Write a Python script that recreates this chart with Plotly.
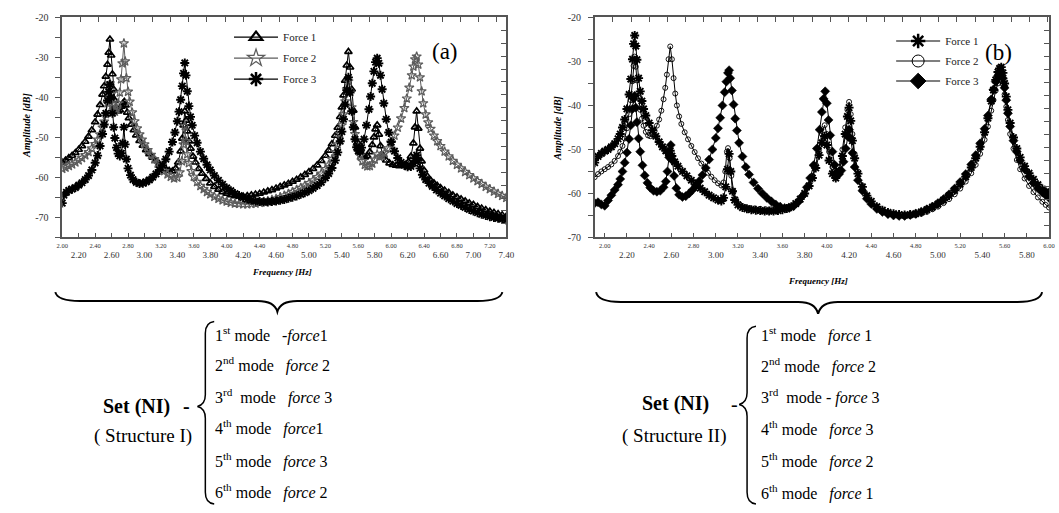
import plotly.graph_objects as go

# ---------------- data ----------------
# Panel (a): Structure I  -- (frequency Hz, amplitude dB)
force1_a = [(2.00,-56.3),(2.04,-55.8),(2.08,-55.2),(2.12,-54.6),(2.16,-53.9),(2.20,-53.1),(2.24,-52.2),(2.28,-51.1),(2.32,-49.8),(2.36,-48.2),(2.40,-46.2),(2.43,-44.3),(2.46,-41.9),(2.49,-39.3),(2.51,-37.2),(2.53,-34.8),(2.55,-31.8),(2.565,-28.8),(2.58,-25.5),(2.595,-29.5),(2.61,-34.2),(2.625,-38.0),(2.64,-40.8),(2.66,-42.8),(2.68,-43.5),(2.70,-43.2),(2.72,-42.3),(2.74,-41.5),(2.755,-41.1),(2.77,-42.0),(2.79,-43.8),(2.81,-45.2),(2.84,-46.8),(2.87,-48.2),(2.90,-49.5),(2.94,-50.9),(2.98,-52.1),(3.02,-53.2),(3.06,-54.2),(3.10,-55.1),(3.14,-55.9),(3.18,-56.7),(3.22,-57.4),(3.26,-58.0),(3.30,-58.4),(3.34,-58.5),(3.38,-57.8),(3.41,-56.3),(3.44,-53.5),(3.46,-50.3),(3.475,-47.0),(3.49,-43.5),(3.505,-45.8),(3.52,-48.5),(3.54,-51.0),(3.56,-52.8),(3.59,-54.8),(3.62,-56.3),(3.66,-57.9),(3.70,-59.1),(3.75,-60.4),(3.80,-61.5),(3.85,-62.4),(3.90,-63.1),(3.95,-63.7),(4.00,-64.1),(4.05,-64.5),(4.10,-64.7),(4.15,-64.8),(4.20,-64.8),(4.25,-64.7),(4.30,-64.5),(4.35,-64.3),(4.40,-64.1),(4.45,-63.8),(4.50,-63.5),(4.55,-63.2),(4.60,-62.8),(4.65,-62.4),(4.70,-62.0),(4.75,-61.6),(4.80,-61.1),(4.85,-60.6),(4.90,-60.0),(4.95,-59.4),(5.00,-58.7),(5.05,-57.9),(5.10,-57.0),(5.15,-55.9),(5.20,-54.6),(5.24,-53.3),(5.28,-51.7),(5.32,-49.6),(5.35,-47.6),(5.38,-44.9),(5.40,-42.5),(5.42,-39.5),(5.44,-35.8),(5.46,-32.0),(5.48,-28.6),(5.50,-32.5),(5.52,-38.0),(5.54,-43.3),(5.56,-47.5),(5.59,-51.3),(5.62,-53.6),(5.65,-54.6),(5.68,-55.0),(5.71,-54.7),(5.74,-53.7),(5.77,-51.9),(5.79,-50.0),(5.81,-48.0),(5.83,-47.0),(5.85,-49.3),(5.87,-52.2),(5.90,-54.5),(5.94,-55.8),(5.98,-56.5),(6.02,-56.9),(6.06,-57.1),(6.10,-57.2),(6.14,-57.1),(6.18,-56.8),(6.21,-56.2),(6.24,-54.8),(6.27,-51.5),(6.29,-47.5),(6.31,-43.5),(6.33,-47.8),(6.35,-52.8),(6.37,-56.0),(6.40,-58.3),(6.44,-59.8),(6.48,-60.8),(6.52,-61.5),(6.56,-62.1),(6.60,-62.7),(6.65,-63.3),(6.70,-63.9),(6.75,-64.5),(6.80,-65.0),(6.85,-65.5),(6.90,-66.0),(6.95,-66.5),(7.00,-66.9),(7.05,-67.4),(7.10,-67.8),(7.15,-68.2),(7.20,-68.6),(7.25,-68.9),(7.30,-69.2),(7.35,-69.5),(7.40,-69.8)]

force2_a = [(2.00,-57.9),(2.04,-57.6),(2.08,-57.2),(2.12,-56.8),(2.16,-56.3),(2.20,-55.8),(2.24,-55.2),(2.28,-54.5),(2.32,-53.7),(2.36,-52.8),(2.40,-51.7),(2.43,-50.6),(2.46,-49.3),(2.49,-47.6),(2.51,-46.1),(2.53,-44.2),(2.55,-41.5),(2.565,-39.0),(2.58,-36.5),(2.595,-39.2),(2.61,-41.8),(2.625,-43.2),(2.64,-43.6),(2.66,-43.0),(2.68,-41.5),(2.70,-38.8),(2.715,-35.5),(2.73,-31.5),(2.75,-26.5),(2.765,-31.0),(2.78,-35.2),(2.80,-38.6),(2.82,-41.1),(2.85,-43.8),(2.88,-46.0),(2.91,-47.8),(2.94,-49.3),(2.97,-50.6),(3.00,-51.8),(3.04,-53.2),(3.08,-54.4),(3.12,-55.5),(3.16,-56.6),(3.20,-57.6),(3.24,-58.5),(3.28,-59.3),(3.32,-59.9),(3.36,-60.3),(3.40,-60.1),(3.43,-58.8),(3.455,-56.0),(3.475,-51.8),(3.49,-47.2),(3.505,-51.0),(3.52,-54.3),(3.54,-56.5),(3.57,-58.5),(3.60,-59.9),(3.64,-61.2),(3.68,-62.2),(3.72,-63.0),(3.76,-63.7),(3.80,-64.3),(3.85,-64.9),(3.90,-65.4),(3.95,-65.8),(4.00,-66.1),(4.05,-66.4),(4.10,-66.6),(4.15,-66.7),(4.20,-66.8),(4.25,-66.8),(4.30,-66.7),(4.35,-66.6),(4.40,-66.4),(4.45,-66.2),(4.50,-66.0),(4.55,-65.7),(4.60,-65.4),(4.65,-65.0),(4.70,-64.6),(4.75,-64.2),(4.80,-63.7),(4.85,-63.2),(4.90,-62.7),(4.95,-62.1),(5.00,-61.5),(5.05,-60.8),(5.10,-60.0),(5.15,-59.1),(5.20,-58.0),(5.24,-56.9),(5.28,-55.5),(5.32,-53.7),(5.35,-51.8),(5.38,-49.2),(5.40,-47.0),(5.42,-44.3),(5.44,-41.0),(5.46,-38.0),(5.48,-36.0),(5.50,-38.8),(5.52,-42.5),(5.54,-46.2),(5.56,-49.2),(5.59,-52.3),(5.62,-54.6),(5.65,-56.0),(5.68,-56.9),(5.71,-57.3),(5.74,-57.2),(5.77,-56.6),(5.80,-55.6),(5.83,-54.3),(5.86,-54.9),(5.89,-54.7),(5.92,-54.0),(5.96,-52.8),(6.00,-51.3),(6.04,-49.6),(6.08,-47.6),(6.12,-45.3),(6.16,-42.7),(6.19,-40.3),(6.22,-37.6),(6.25,-34.5),(6.27,-32.3),(6.29,-30.5),(6.31,-29.8),(6.33,-31.8),(6.35,-35.0),(6.37,-38.5),(6.39,-41.5),(6.42,-44.3),(6.45,-46.3),(6.48,-47.9),(6.52,-49.6),(6.56,-51.0),(6.60,-52.2),(6.65,-53.6),(6.70,-54.8),(6.75,-55.9),(6.80,-56.9),(6.85,-57.8),(6.90,-58.7),(6.95,-59.5),(7.00,-60.3),(7.05,-61.0),(7.10,-61.7),(7.15,-62.4),(7.20,-63.0),(7.25,-63.6),(7.30,-64.2),(7.35,-64.7),(7.40,-65.2)]

force3_a = [(2.00,-66.5),(2.02,-64.5),(2.05,-63.8),(2.08,-63.3),(2.12,-63.0),(2.16,-62.6),(2.20,-62.0),(2.24,-61.4),(2.28,-60.6),(2.32,-59.6),(2.36,-58.2),(2.40,-56.4),(2.43,-54.6),(2.46,-52.2),(2.49,-49.2),(2.51,-46.8),(2.53,-44.0),(2.55,-40.8),(2.565,-38.6),(2.58,-36.8),(2.595,-40.0),(2.61,-44.0),(2.625,-47.5),(2.64,-50.2),(2.66,-52.6),(2.68,-54.1),(2.70,-54.7),(2.72,-54.0),(2.735,-51.5),(2.75,-47.5),(2.765,-51.8),(2.78,-55.5),(2.80,-57.8),(2.83,-59.5),(2.86,-60.6),(2.90,-61.3),(2.94,-61.6),(2.98,-61.5),(3.02,-61.2),(3.06,-60.7),(3.10,-60.0),(3.14,-59.2),(3.18,-58.2),(3.22,-57.0),(3.26,-55.5),(3.30,-53.6),(3.34,-51.2),(3.37,-48.8),(3.40,-46.0),(3.42,-43.6),(3.44,-40.6),(3.46,-37.2),(3.475,-34.0),(3.49,-31.4),(3.505,-34.5),(3.52,-38.5),(3.54,-42.2),(3.56,-44.9),(3.58,-47.0),(3.61,-49.6),(3.64,-51.4),(3.68,-53.6),(3.72,-55.4),(3.76,-56.9),(3.80,-58.2),(3.85,-59.6),(3.90,-60.8),(3.95,-61.8),(4.00,-62.7),(4.05,-63.4),(4.10,-64.1),(4.15,-64.6),(4.20,-65.1),(4.25,-65.5),(4.30,-65.8),(4.35,-66.0),(4.40,-66.1),(4.45,-66.2),(4.50,-66.2),(4.55,-66.1),(4.60,-66.0),(4.65,-65.8),(4.70,-65.6),(4.75,-65.3),(4.80,-65.0),(4.85,-64.7),(4.90,-64.3),(4.95,-63.9),(5.00,-63.4),(5.05,-62.8),(5.10,-62.1),(5.15,-61.3),(5.20,-60.2),(5.24,-59.1),(5.28,-57.7),(5.32,-55.8),(5.35,-53.8),(5.38,-51.0),(5.40,-48.6),(5.42,-45.5),(5.44,-41.8),(5.46,-38.2),(5.48,-35.0),(5.50,-38.8),(5.52,-43.5),(5.54,-47.5),(5.56,-50.5),(5.58,-52.5),(5.60,-53.4),(5.62,-53.5),(5.64,-52.6),(5.67,-50.5),(5.70,-47.0),(5.73,-43.0),(5.75,-39.8),(5.77,-36.5),(5.79,-33.5),(5.81,-31.2),(5.83,-30.2),(5.85,-31.5),(5.87,-34.5),(5.89,-38.0),(5.91,-41.5),(5.94,-45.5),(5.97,-48.8),(6.00,-51.2),(6.04,-53.5),(6.08,-55.2),(6.12,-56.3),(6.16,-57.0),(6.20,-57.4),(6.24,-57.3),(6.27,-56.5),(6.29,-55.3),(6.31,-54.5),(6.33,-55.8),(6.35,-57.8),(6.38,-59.4),(6.42,-60.6),(6.46,-61.5),(6.50,-62.3),(6.55,-63.2),(6.60,-64.0),(6.65,-64.7),(6.70,-65.4),(6.75,-66.0),(6.80,-66.6),(6.85,-67.1),(6.90,-67.6),(6.95,-68.1),(7.00,-68.5),(7.05,-68.9),(7.10,-69.3),(7.15,-69.6),(7.20,-69.9),(7.25,-70.1),(7.30,-70.3),(7.35,-70.5),(7.40,-70.7)]

# Panel (b): Structure II
force1_b = [(1.91,-53.0),(1.94,-51.6),(1.97,-50.9),(2.00,-50.4),(2.03,-50.0),(2.06,-49.4),(2.09,-48.7),(2.12,-47.6),(2.14,-46.5),(2.16,-45.0),(2.18,-43.2),(2.20,-40.8),(2.22,-37.5),(2.235,-34.0),(2.25,-29.5),(2.26,-26.0),(2.27,-24.1),(2.28,-26.5),(2.29,-29.6),(2.305,-33.8),(2.32,-36.8),(2.335,-39.0),(2.35,-40.8),(2.37,-42.3),(2.40,-44.0),(2.43,-45.6),(2.46,-47.0),(2.49,-48.3),(2.52,-49.4),(2.55,-50.3),(2.575,-50.8),(2.59,-50.3),(2.605,-51.5),(2.63,-52.8),(2.66,-53.8),(2.70,-55.0),(2.74,-56.0),(2.78,-57.0),(2.82,-57.9),(2.86,-58.8),(2.90,-59.6),(2.94,-60.4),(2.98,-61.0),(3.02,-61.5),(3.05,-61.7),(3.07,-61.0),(3.09,-58.5),(3.105,-54.5),(3.12,-51.0),(3.135,-55.0),(3.15,-59.5),(3.17,-61.5),(3.20,-62.6),(3.24,-63.2),(3.28,-63.5),(3.32,-63.7),(3.36,-63.8),(3.40,-63.9),(3.44,-64.0),(3.48,-64.0),(3.52,-64.0),(3.56,-63.9),(3.60,-63.7),(3.64,-63.4),(3.68,-63.0),(3.72,-62.3),(3.76,-61.3),(3.80,-60.0),(3.84,-58.3),(3.87,-56.5),(3.90,-54.2),(3.93,-51.3),(3.955,-48.5),(3.98,-47.0),(4.00,-49.0),(4.02,-52.5),(4.05,-55.5),(4.08,-56.5),(4.11,-55.0),(4.14,-51.5),(4.165,-46.5),(4.185,-42.5),(4.20,-40.5),(4.215,-43.5),(4.23,-48.0),(4.25,-52.0),(4.28,-55.5),(4.32,-58.5),(4.36,-60.5),(4.40,-61.8),(4.45,-63.0),(4.50,-63.8),(4.55,-64.3),(4.60,-64.6),(4.65,-64.8),(4.70,-64.9),(4.75,-64.8),(4.80,-64.6),(4.85,-64.2),(4.90,-63.7),(4.95,-63.1),(5.00,-62.4),(5.05,-61.5),(5.10,-60.5),(5.15,-59.3),(5.20,-57.9),(5.25,-56.2),(5.30,-54.1),(5.34,-52.0),(5.38,-49.4),(5.42,-46.1),(5.45,-42.9),(5.48,-39.0),(5.50,-36.5),(5.52,-34.2),(5.54,-32.4),(5.555,-31.6),(5.57,-31.3),(5.585,-32.6),(5.60,-35.0),(5.615,-38.0),(5.63,-41.0),(5.65,-44.0),(5.68,-47.3),(5.71,-49.8),(5.74,-51.8),(5.78,-53.8),(5.82,-55.4),(5.86,-56.8),(5.90,-58.0),(5.94,-59.0),(5.97,-59.6),(6.00,-60.2)]

force2_b = [(1.91,-56.3),(1.94,-55.6),(1.97,-55.0),(2.00,-54.5),(2.03,-54.0),(2.06,-53.4),(2.09,-52.6),(2.12,-51.5),(2.14,-50.5),(2.16,-49.2),(2.18,-47.5),(2.20,-45.2),(2.22,-42.0),(2.235,-38.8),(2.25,-34.5),(2.26,-31.0),(2.27,-28.9),(2.28,-31.2),(2.29,-34.3),(2.305,-38.3),(2.32,-41.0),(2.335,-43.0),(2.35,-44.6),(2.37,-46.0),(2.39,-46.8),(2.41,-47.0),(2.43,-46.6),(2.45,-45.8),(2.47,-44.6),(2.49,-43.2),(2.51,-41.2),(2.53,-38.6),(2.545,-36.0),(2.56,-33.0),(2.575,-29.5),(2.59,-26.6),(2.605,-29.5),(2.62,-33.8),(2.635,-37.3),(2.65,-40.0),(2.67,-42.5),(2.69,-44.2),(2.72,-46.1),(2.75,-47.7),(2.78,-49.2),(2.81,-50.6),(2.84,-52.0),(2.87,-53.2),(2.90,-54.3),(2.93,-55.3),(2.96,-56.2),(2.99,-57.0),(3.02,-57.7),(3.05,-58.2),(3.07,-57.5),(3.085,-55.0),(3.10,-50.5),(3.11,-49.7),(3.125,-52.0),(3.14,-56.0),(3.16,-59.5),(3.18,-61.3),(3.21,-62.4),(3.25,-63.0),(3.30,-63.3),(3.35,-63.4),(3.40,-63.5),(3.45,-63.6),(3.50,-63.6),(3.55,-63.6),(3.60,-63.5),(3.64,-63.3),(3.68,-62.9),(3.72,-62.3),(3.76,-61.4),(3.80,-60.0),(3.84,-58.0),(3.87,-56.0),(3.90,-53.5),(3.93,-50.0),(3.955,-46.5),(3.98,-44.5),(4.00,-46.5),(4.02,-50.5),(4.05,-54.0),(4.08,-55.3),(4.11,-54.0),(4.14,-50.0),(4.165,-45.0),(4.185,-41.0),(4.20,-39.2),(4.215,-42.0),(4.23,-46.5),(4.25,-51.0),(4.28,-55.0),(4.32,-58.3),(4.36,-60.5),(4.40,-62.0),(4.45,-63.3),(4.50,-64.1),(4.55,-64.7),(4.60,-65.0),(4.65,-65.2),(4.70,-65.2),(4.75,-65.1),(4.80,-64.9),(4.85,-64.6),(4.90,-64.2),(4.95,-63.6),(5.00,-63.0),(5.05,-62.2),(5.10,-61.3),(5.15,-60.2),(5.20,-58.9),(5.25,-57.3),(5.30,-55.4),(5.34,-53.5),(5.38,-51.0),(5.42,-47.8),(5.45,-44.8),(5.48,-41.2),(5.50,-38.8),(5.52,-36.6),(5.54,-35.0),(5.555,-34.3),(5.57,-34.0),(5.585,-35.2),(5.60,-37.5),(5.615,-40.3),(5.63,-43.3),(5.65,-46.5),(5.68,-49.8),(5.71,-52.4),(5.74,-54.5),(5.78,-56.6),(5.82,-58.3),(5.86,-59.7),(5.90,-60.9),(5.94,-61.9),(5.97,-62.6),(6.00,-63.2)]

force3_b = [(1.91,-62.2),(1.94,-62.0),(1.97,-62.5),(2.00,-62.8),(2.03,-61.6),(2.06,-60.4),(2.09,-59.2),(2.12,-58.0),(2.14,-56.7),(2.16,-55.0),(2.18,-53.0),(2.20,-50.7),(2.22,-47.6),(2.235,-44.5),(2.25,-40.8),(2.26,-38.5),(2.27,-37.8),(2.28,-40.5),(2.29,-43.8),(2.305,-47.5),(2.32,-50.5),(2.34,-53.6),(2.36,-55.9),(2.385,-57.6),(2.41,-58.7),(2.44,-59.4),(2.47,-59.6),(2.50,-59.4),(2.53,-58.6),(2.55,-57.3),(2.565,-55.0),(2.58,-51.8),(2.595,-49.0),(2.61,-52.5),(2.625,-56.0),(2.645,-58.8),(2.67,-60.3),(2.70,-60.8),(2.73,-60.6),(2.76,-60.0),(2.79,-59.2),(2.82,-58.3),(2.85,-57.2),(2.88,-55.8),(2.91,-54.2),(2.94,-52.3),(2.97,-50.0),(3.00,-47.4),(3.02,-45.2),(3.04,-42.8),(3.06,-40.0),(3.08,-37.0),(3.095,-34.6),(3.11,-32.6),(3.12,-32.0),(3.13,-33.8),(3.145,-36.6),(3.16,-39.8),(3.175,-43.0),(3.19,-45.7),(3.21,-48.5),(3.24,-51.6),(3.27,-54.0),(3.30,-55.7),(3.34,-57.5),(3.38,-58.9),(3.42,-60.0),(3.46,-61.0),(3.50,-61.8),(3.54,-62.5),(3.58,-63.0),(3.62,-63.3),(3.66,-63.3),(3.70,-62.9),(3.74,-62.0),(3.78,-60.6),(3.82,-58.6),(3.85,-56.5),(3.88,-53.6),(3.91,-49.8),(3.935,-45.5),(3.955,-41.5),(3.97,-38.5),(3.985,-36.8),(4.00,-39.5),(4.015,-43.3),(4.03,-46.8),(4.05,-50.5),(4.07,-53.5),(4.09,-55.2),(4.11,-55.6),(4.13,-54.8),(4.15,-52.8),(4.17,-49.8),(4.185,-47.0),(4.20,-45.5),(4.215,-47.5),(4.23,-50.8),(4.25,-54.0),(4.28,-57.0),(4.32,-59.4),(4.36,-61.2),(4.40,-62.4),(4.45,-63.5),(4.50,-64.2),(4.55,-64.7),(4.60,-65.0),(4.65,-65.1),(4.70,-65.1),(4.75,-64.9),(4.80,-64.6),(4.85,-64.2),(4.90,-63.6),(4.95,-63.0),(5.00,-62.2),(5.05,-61.3),(5.10,-60.2),(5.15,-58.9),(5.20,-57.4),(5.25,-55.6),(5.30,-53.4),(5.34,-51.3),(5.38,-48.6),(5.42,-45.3),(5.45,-42.3),(5.48,-38.6),(5.50,-36.4),(5.52,-34.6),(5.54,-33.3),(5.555,-32.8),(5.57,-32.6),(5.585,-33.8),(5.60,-36.0),(5.615,-38.8),(5.63,-41.8),(5.65,-44.8),(5.68,-48.0),(5.71,-50.5),(5.74,-52.5),(5.78,-54.5),(5.82,-56.2),(5.86,-57.6),(5.90,-58.8),(5.94,-59.8),(5.97,-60.4),(6.00,-61.0)]

series_names = ["Force 1", "Force 2", "Force 3"]

# tick values / labels
xticks_a_upper = [2.0, 2.4, 2.8, 3.2, 3.6, 4.0, 4.4, 4.8, 5.2, 5.6, 6.0, 6.4, 6.8, 7.2]
xlabels_a_upper = ["2.00", "2.40", "2.80", "3.20", "3.60", "4.00", "4.40", "4.80", "5.20", "5.60", "6.00", "6.40", "6.80", "7.20"]
xticks_a_lower = [2.2, 2.6, 3.0, 3.4, 3.8, 4.2, 4.6, 5.0, 5.4, 5.8, 6.2, 6.6, 7.0, 7.4]
xlabels_a_lower = ["2.20", "2.60", "3.00", "3.40", "3.80", "4.20", "4.60", "5.00", "5.40", "5.80", "6.20", "6.60", "7.00", "7.40"]
xticks_b_upper = [2.0, 2.4, 2.8, 3.2, 3.6, 4.0, 4.4, 4.8, 5.2, 5.6, 6.0]
xlabels_b_upper = ["2.00", "2.40", "2.80", "3.20", "3.60", "4.00", "4.40", "4.80", "5.20", "5.60", "6.00"]
xticks_b_lower = [2.2, 2.6, 3.0, 3.4, 3.8, 4.2, 4.6, 5.0, 5.4, 5.8]
xlabels_b_lower = ["2.20", "2.60", "3.00", "3.40", "3.80", "4.20", "4.60", "5.00", "5.40", "5.80"]
yticks = [-20, -30, -40, -50, -60, -70]
ylabels = ["-20", "-30", "-40", "-50", "-60", "-70"]

rows_a = ["1<sup>st</sup> mode &nbsp;&nbsp;-<i>force</i>1",
          "2<sup>nd</sup> mode &nbsp;&nbsp;<i>force</i> 2",
          "3<sup>rd</sup> &nbsp;mode &nbsp;&nbsp;<i>force</i> 3",
          "4<sup>th</sup> mode &nbsp;&nbsp;<i>force</i>1",
          "5<sup>th</sup> mode &nbsp;&nbsp;<i>force</i> 3",
          "6<sup>th</sup> mode &nbsp;&nbsp;<i>force</i> 2"]
rows_b = ["1<sup>st</sup> mode &nbsp;&nbsp;<i>force</i> 1",
          "2<sup>nd</sup> mode &nbsp;&nbsp;<i>force</i> 2",
          "3<sup>rd</sup> &nbsp;mode - <i>force</i> 3",
          "4<sup>th</sup> mode &nbsp;&nbsp;<i>force</i> 3",
          "5<sup>th</sup> mode &nbsp;&nbsp;<i>force</i> 2",
          "6<sup>th</sup> mode &nbsp;&nbsp;<i>force</i> 1"]

# ---------------- layout helpers ----------------
W, H = 1059, 513
SERIF = "Times New Roman, Liberation Serif, Tinos, serif"
AX = "#555555"
GRAY = "#5c5c5c"


def px(x):
    return x / W


def py(y):
    return 1 - y / H


def unzip(pairs):
    return [p[0] for p in pairs], [p[1] for p in pairs]


fig = go.Figure()

styles_a = [
    dict(symbol="triangle-up-open", size=6.5, color="black", line=dict(width=1.7, color="black")),
    dict(symbol="star-open", size=7, color=GRAY, line=dict(width=1.2, color=GRAY)),
    dict(symbol="asterisk-open", size=7.5, color="black", line=dict(width=1.9, color="black")),
]
legend_styles_a = [
    dict(symbol="triangle-up-open", size=11, color="black", line=dict(width=2.2, color="black")),
    dict(symbol="star-open", size=13, color=GRAY, line=dict(width=1.2, color=GRAY)),
    dict(symbol="asterisk-open", size=12, color="black", line=dict(width=2.5, color="black")),
]
line_colors_a = ["black", GRAY, "black"]

for name, data, st, lst, lc in zip(series_names, [force1_a, force2_a, force3_a], styles_a, legend_styles_a, line_colors_a):
    xs, ys = unzip(data)
    fig.add_trace(go.Scatter(x=xs, y=ys, mode="lines+markers", name=name, showlegend=False,
                             line=dict(color=lc, width=1), marker=st, xaxis="x", yaxis="y"))
    fig.add_trace(go.Scatter(x=[None], y=[None], mode="lines+markers", name=name, legend="legend",
                             legendgroup="a" + name,
                             line=dict(color=lc, width=1.2), marker=lst, xaxis="x", yaxis="y"))

styles_b = [
    dict(symbol="asterisk-open", size=7.5, color="black", line=dict(width=1.9, color="black")),
    dict(symbol="circle-open", size=5, color="black", line=dict(width=0.9, color="black")),
    dict(symbol="diamond", size=7, color="black", line=dict(width=0.5, color="black")),
]
legend_styles_b = [
    dict(symbol="asterisk-open", size=12, color="black", line=dict(width=2.5, color="black")),
    dict(symbol="circle-open", size=12, color="black", line=dict(width=1, color="black")),
    dict(symbol="diamond", size=12, color="black", line=dict(width=1, color="black")),
]
for name, data, st, lst in zip(series_names, [force1_b, force2_b, force3_b], styles_b, legend_styles_b):
    xs, ys = unzip(data)
    fig.add_trace(go.Scatter(x=xs, y=ys, mode="lines+markers", name=name, showlegend=False,
                             line=dict(color="black", width=1), marker=st, xaxis="x2", yaxis="y2"))
    fig.add_trace(go.Scatter(x=[None], y=[None], mode="lines+markers", name=name, legend="legend2",
                             legendgroup="b" + name,
                             line=dict(color="black", width=1.2), marker=lst, xaxis="x2", yaxis="y2"))

# empty traces so that the decorative overlay axes are drawn
for xa, ya in [("x3", "y"), ("x5", "y"), ("x", "y3"), ("x4", "y2"), ("x6", "y2"), ("x2", "y4")]:
    fig.add_trace(go.Scatter(x=[], y=[], xaxis=xa, yaxis=ya, showlegend=False, hoverinfo="skip"))

xr_a = [2.0, 7.4]
yr_a = [-75.1, -20]
xr_b = [1.911, 6.0]
yr_b = [-70, -20]
dom_xa = [px(57), px(507)]
dom_xb = [px(596.7), px(1057)]
dom_y = [py(237), py(11.7)]

base_x = dict(showgrid=False, zeroline=False, showline=True, mirror=True, linecolor=AX, linewidth=1.5,
              ticks="inside", ticklen=5, tickcolor=AX, tickwidth=1, tickmode="array",
              minor=dict(ticks="inside", ticklen=5, tickcolor=AX, tickwidth=1, tick0=2.0, dtick=0.2, showgrid=False),
              tickfont=dict(family=SERIF, size=6.5, color="#333"), ticklabelstandoff=1)
base_y = dict(showgrid=False, zeroline=False, showline=True, mirror=True, linecolor=AX, linewidth=1.5,
              ticks="outside", ticklen=5, tickcolor=AX, tickwidth=1, tickmode="array",
              tickvals=yticks, ticktext=ylabels,
              minor=dict(ticks="outside", ticklen=5, tickcolor=AX, tickwidth=1, tick0=-20, dtick=5, showgrid=False),
              tickfont=dict(family=SERIF, size=10, color="#333"), ticklabelstandoff=5)
deco = dict(showgrid=False, zeroline=False, showline=False, showticklabels=False,
            ticks="inside", ticklen=5, tickcolor=AX, tickwidth=1, tickmode="linear")
lower_lab = dict(showgrid=False, zeroline=False, showline=False, ticks="", tickmode="array",
                 tickfont=dict(family=SERIF, size=9, color="#333"), ticklabelstandoff=11)

fig.update_layout(
    width=W, height=H, margin=dict(l=0, r=0, t=0, b=0),
    paper_bgcolor="white", plot_bgcolor="white",
    xaxis=dict(base_x, domain=dom_xa, anchor="y", range=xr_a, tickvals=xticks_a_upper, ticktext=xlabels_a_upper),
    yaxis=dict(base_y, domain=dom_y, anchor="x", range=yr_a),
    xaxis3=dict(deco, overlaying="x", anchor="y", side="top", range=xr_a, tick0=2.0, dtick=0.22),
    yaxis3=dict(deco, overlaying="y", anchor="x", side="right", range=yr_a, tick0=-20, dtick=3.23),
    xaxis5=dict(lower_lab, overlaying="x", anchor="y", side="bottom", range=xr_a,
                tickvals=xticks_a_lower, ticktext=xlabels_a_lower),
    xaxis2=dict(base_x, domain=dom_xb, anchor="y2", range=xr_b, tickvals=xticks_b_upper, ticktext=xlabels_b_upper),
    yaxis2=dict(base_y, domain=dom_y, anchor="x2", range=yr_b),
    xaxis4=dict(deco, overlaying="x2", anchor="y2", side="top", range=xr_b, tick0=1.911, dtick=0.163),
    yaxis4=dict(deco, overlaying="y2", anchor="x2", side="right", range=yr_b, tick0=-20, dtick=2.96),
    xaxis6=dict(lower_lab, overlaying="x2", anchor="y2", side="bottom", range=xr_b,
                tickvals=xticks_b_lower, ticktext=xlabels_b_lower),
    legend=dict(x=px(226), y=py(17), xanchor="left", yanchor="top", bgcolor="rgba(0,0,0,0)",
                font=dict(family=SERIF, size=11, color="#222"), itemwidth=44, tracegroupgap=2),
    legend2=dict(x=px(897), y=py(21), xanchor="left", yanchor="top", bgcolor="rgba(0,0,0,0)",
                 font=dict(family=SERIF, size=11, color="#222"), itemwidth=44, tracegroupgap=1),
    showlegend=True,
)

ann = []


def text(x, y, s, size, anchor="center", angle=0):
    ann.append(dict(xref="paper", yref="paper", x=px(x), y=py(y), text=s, showarrow=False,
                    xanchor=anchor, yanchor="middle", textangle=angle,
                    font=dict(family=SERIF, size=size, color="black")))


# panel labels and axis titles
text(445, 47, "(a)", 23)
text(1006, 48, "(b)", 23)
text(20, 122, "<b><i>Amplitude [dB]</i></b>", 10, angle=-90)
text(558, 125, "<b><i>Amplitude [dB]</i></b>", 10, angle=-90)
text(280, 272, "<b><i>Frequency [Hz]</i></b>", 9)
text(823, 282, "<b><i>Frequency [Hz]</i></b>", 9)

# mode / force tables
text(132, 410, "<b>Set (NI)</b>", 20)
text(183, 410, "<b>-</b>", 20)
text(139, 440, "( Structure I)", 19)
text(678, 407, "<b>Set (NI)</b>", 20)
text(738, 408, "-", 20)
text(677, 440, "( Structure II)", 19)
rows_y_a = [336, 367, 400, 432, 465, 497]
rows_y_b = [336, 368, 400, 433, 465, 498]
for s, y in zip(rows_a, rows_y_a):
    text(210, y, s, 16, anchor="left")
for s, y in zip(rows_b, rows_y_b):
    text(763, y, s, 16, anchor="left")

fig.update_layout(annotations=ann)


def path(points_cmds):
    out = []
    for cmd, pts in points_cmds:
        coords = " ".join(f"{px(x):.5f},{py(y):.5f}" for x, y in pts)
        out.append(f"{cmd} {coords}")
    return " ".join(out)


def hbrace(x0, x1, xm, ytop, yline, ytip):
    return path([("M", [(x0, ytop)]), ("Q", [(x0 + 2, yline), (x0 + 25, yline)]),
                 ("L", [(xm - 20, yline)]), ("Q", [(xm - 3, yline), (xm, ytip)]),
                 ("Q", [(xm + 3, yline), (xm + 20, yline)]), ("L", [(x1 - 25, yline)]),
                 ("Q", [(x1 - 2, yline), (x1, ytop)])])


def vbrace(xend, xline, xtip, y0, y1, ytip):
    return path([("M", [(xend, y0)]), ("Q", [(xline, y0 + 1), (xline, y0 + 12)]),
                 ("L", [(xline, ytip - 12)]), ("Q", [(xline, ytip - 2), (xtip, ytip)]),
                 ("Q", [(xline, ytip + 2), (xline, ytip + 12)]), ("L", [(xline, y1 - 12)]),
                 ("Q", [(xline, y1 - 1), (xend, y1)])])


shape_line = dict(color="black", width=2)
fig.update_layout(shapes=[
    dict(type="path", xref="paper", yref="paper", path=hbrace(50, 503, 275, 293, 302, 313), line=shape_line),
    dict(type="path", xref="paper", yref="paper", path=hbrace(598, 1050, 823, 293, 303, 315), line=shape_line),
    dict(type="path", xref="paper", yref="paper", path=vbrace(211, 202, 194, 323, 510, 410),
         line=dict(color="black", width=1.5)),
    dict(type="path", xref="paper", yref="paper", path=vbrace(760, 751, 743, 328, 510, 408),
         line=dict(color="black", width=1.5)),
])

fig.write_html("out.html")
